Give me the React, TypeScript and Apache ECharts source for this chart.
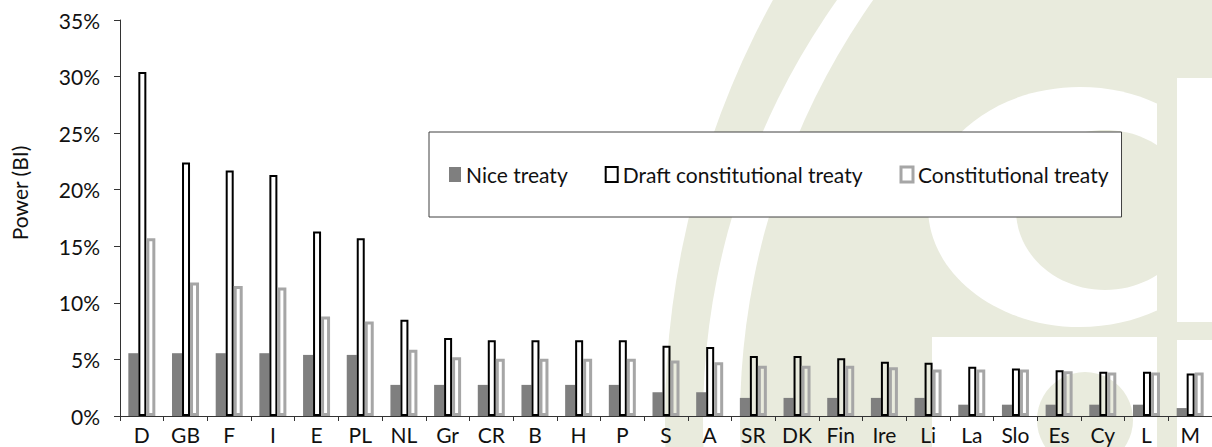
import React, { useEffect, useRef } from "react";
import * as echarts from "echarts";

const categories = ["D", "GB", "F", "I", "E", "PL", "NL", "Gr", "CR", "B", "H", "P", "S", "A", "SR", "DK", "Fin", "Ire", "Li", "La", "Slo", "Es", "Cy", "L", "M"];
const niceTreaty = [5.55, 5.55, 5.55, 5.55, 5.4, 5.4, 2.75, 2.75, 2.75, 2.75, 2.75, 2.75, 2.1, 2.1, 1.6, 1.6, 1.6, 1.6, 1.6, 1.0, 1.0, 1.0, 1.0, 1.0, 0.7];
const draftTreaty = [30.4, 22.4, 21.7, 21.3, 16.3, 15.7, 8.5, 6.9, 6.7, 6.7, 6.7, 6.7, 6.2, 6.1, 5.3, 5.3, 5.1, 4.8, 4.7, 4.35, 4.2, 4.05, 3.9, 3.9, 3.75];
const constitutionalTreaty = [15.7, 11.8, 11.5, 11.35, 8.8, 8.35, 5.85, 5.2, 5.05, 5.05, 5.05, 5.05, 4.9, 4.75, 4.45, 4.45, 4.45, 4.3, 4.1, 4.1, 4.1, 3.95, 3.85, 3.85, 3.85];
const seriesNames = ["Nice treaty", "Draft constitutional treaty", "Constitutional treaty"];
const yMax = 35;
const yStep = 5;
const yAxisTitle = "Power (BI)";

const OLIVE = "#e9ebdd";
const FONT = "Lato";
const TEXT = "#111111";

export default function App() {
  const ref = useRef<HTMLDivElement>(null);

  useEffect(() => {
    document.body.style.margin = "0";
    if (!ref.current) return;
    const chart = echarts.init(ref.current, null, { renderer: "svg" });

    const wm = (el: any) => ({ ...el, z: -10, silent: true });

    const option: any = {
      animation: false,
      backgroundColor: "#ffffff",
      grid: { left: 120, top: 20, bottom: 31, right: -10, containLabel: false },
      graphic: [
        wm({ type: "circle", shape: { cx: 1536, cy: 420, r: 871 }, style: { fill: OLIVE } }),
        wm({ type: "circle", shape: { cx: 1428, cy: 420, r: 725 }, style: { fill: "#ffffff" } }),
        wm({ type: "circle", shape: { cx: 1469, cy: 420, r: 729 }, style: { fill: OLIVE } }),
        wm({ type: "ellipse", shape: { cx: 1080, cy: 207, rx: 152, ry: 120 }, style: { fill: "#ffffff" } }),
        wm({ type: "ellipse", shape: { cx: 1105, cy: 210, rx: 89, ry: 80 }, style: { fill: OLIVE } }),
        wm({ type: "rect", shape: { x: 1157, y: 0, width: 20, height: 447 }, style: { fill: OLIVE } }),
        wm({ type: "rect", shape: { x: 1177, y: 78, width: 40, height: 244 }, style: { fill: "#ffffff" } }),
        wm({ type: "rect", shape: { x: 1177, y: 340, width: 40, height: 110 }, style: { fill: "#ffffff" } }),
        wm({ type: "rect", shape: { x: 932, y: 337, width: 225, height: 110 }, style: { fill: "#ffffff" } }),
        wm({ type: "circle", shape: { cx: 1085, cy: 420, r: 48 }, style: { fill: OLIVE } }),
        {
          type: "text",
          x: 19,
          y: 193,
          rotation: Math.PI / 2,
          z: 5,
          style: {
            text: yAxisTitle,
            fontFamily: FONT,
            fontSize: 21,
            fill: TEXT,
            align: "center",
            verticalAlign: "middle",
          },
        },
      ],
      legend: {
        left: 429,
        top: 132,
        orient: "horizontal",
        padding: [32, 13, 32, 20],
        itemGap: 37,
        itemWidth: 12,
        itemHeight: 15,
        borderColor: "#404040",
        borderWidth: 1,
        backgroundColor: "#ffffff",
        selectedMode: false,
        icon: "rect",
        textStyle: { fontFamily: FONT, fontSize: 21, color: TEXT },
        data: [
          { name: seriesNames[0], itemStyle: { color: "#7f7f7f", borderWidth: 0 } },
          { name: seriesNames[1], itemStyle: { color: "#ffffff", borderColor: "#000000", borderWidth: 2 } },
          { name: seriesNames[2], itemStyle: { color: "#ffffff", borderColor: "#a6a6a6", borderWidth: 3 } },
        ],
      },
      xAxis: {
        type: "category",
        data: categories,
        axisLine: { show: true, lineStyle: { color: "#333333", width: 1 } },
        axisTick: { show: true, interval: 0, length: 5, lineStyle: { color: "#333333" } },
        axisLabel: { interval: 0, margin: 8, fontFamily: FONT, fontSize: 21, color: TEXT },
        splitLine: { show: false },
      },
      yAxis: {
        type: "value",
        min: 0,
        max: yMax,
        interval: yStep,
        axisLine: { show: true, lineStyle: { color: "#333333", width: 1 } },
        axisTick: { show: true, length: 6, lineStyle: { color: "#333333" } },
        axisLabel: { formatter: "{value}%", margin: 20, fontFamily: FONT, fontSize: 21, color: TEXT },
        splitLine: { show: false },
      },
      series: [
        {
          name: seriesNames[0],
          type: "bar",
          data: niceTreaty,
          barWidth: 10,
          barGap: "0%",
          itemStyle: { color: "#7f7f7f" },
        },
        {
          name: seriesNames[1],
          type: "bar",
          data: draftTreaty,
          barWidth: 8,
          barGap: "0%",
          itemStyle: { color: "rgba(255,255,255,0)", borderColor: "#000000", borderWidth: 2 },
        },
        {
          name: seriesNames[2],
          type: "bar",
          data: constitutionalTreaty,
          barWidth: 9,
          barGap: "0%",
          itemStyle: { color: "rgba(255,255,255,0)", borderColor: "#a6a6a6", borderWidth: 3 },
        },
      ],
    };

    chart.setOption(option);
    return () => chart.dispose();
  }, []);

  return <div ref={ref} style={{ width: 1212, height: 447, overflow: "hidden" }} />;
}
